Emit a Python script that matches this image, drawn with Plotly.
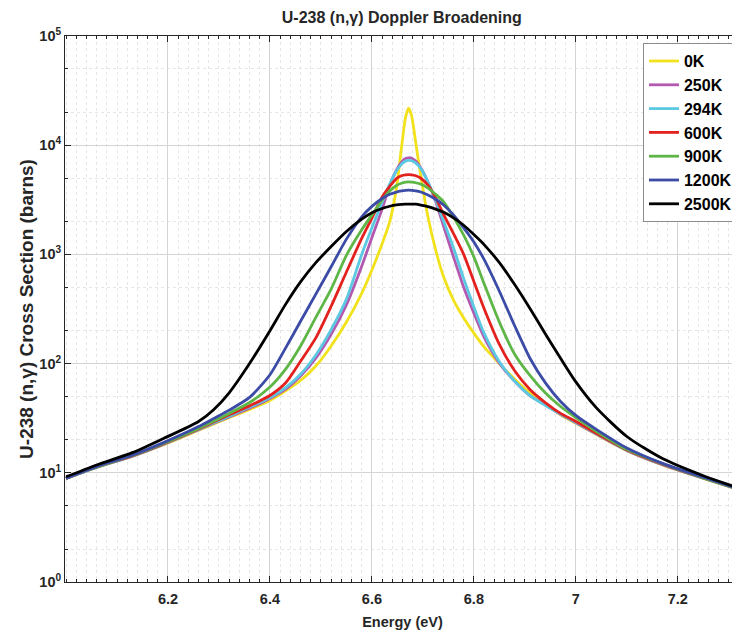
import plotly.graph_objects as go

energy = [6.00, 6.06, 6.13, 6.19, 6.26, 6.29, 6.32, 6.36, 6.40, 6.43, 6.46, 6.49, 6.52, 6.55,
          6.58, 6.60, 6.62, 6.635, 6.648, 6.658, 6.666, 6.672, 6.678, 6.686, 6.696, 6.71,
          6.725, 6.74, 6.76, 6.78, 6.80, 6.82, 6.85, 6.88, 6.91, 6.94, 6.97, 7.00, 7.04,
          7.10, 7.17, 7.25, 7.32]

xs_0K = [8.9, 11.2, 14.2, 18.0, 24.5, 28, 32, 38, 46, 56, 70, 95, 145, 240,
         440, 720, 1250, 2000, 4000, 9500, 18000, 21800, 18500, 10500, 5200, 2200,
         1100, 634, 381, 262, 190, 142, 100, 72, 54, 43, 34, 28.5, 22.5,
         16, 11.8, 8.9, 7.0]
xs_250K = [8.9, 11.2, 14.2, 18.1, 24.8, 28.4, 32.5, 39, 48, 58, 77, 112, 185, 345,
           780, 1430, 2600, 4300, 5900, 7000, 7550, 7670, 7600, 7150, 6200, 4600,
           3050, 1850, 950, 500, 290, 175, 101, 69, 51, 42, 34.3, 28.7, 22.6,
           16.05, 11.85, 8.92, 7.02]
xs_294K = [8.9, 11.2, 14.2, 18.2, 25, 28.7, 33, 40, 49, 60, 80, 120, 205, 390,
           1000, 1750, 3000, 4400, 5800, 6700, 7150, 7260, 7200, 6850, 6100, 4600,
           3150, 2050, 1150, 600, 330, 190, 104, 69, 51, 41.5, 34.5, 29, 22.8,
           16.1, 11.9, 8.95, 7.05]
xs_600K = [8.9, 11.3, 14.3, 18.3, 25.2, 29.3, 34, 41, 51, 66, 105, 172, 335, 690,
           1400, 2150, 3350, 4200, 4950, 5250, 5350, 5370, 5350, 5250, 4980, 4300,
           3300, 2350, 1550, 1000, 566, 320, 150, 86, 58, 44, 35, 29.5, 23,
           16.2, 12, 9.0, 7.05]
xs_900K = [8.9, 11.3, 14.4, 18.5, 25.5, 29.8, 35, 44, 61, 88, 145, 265, 480, 980,
           1680, 2300, 3150, 3800, 4280, 4480, 4580, 4610, 4590, 4530, 4400, 4050,
           3550, 3050, 2200, 1500, 950, 540, 240, 122, 78, 54, 40.5, 32, 24,
           16.4, 12.1, 9.0, 7.05]
xs_1200K = [8.9, 11.4, 14.5, 18.8, 26.5, 31.5, 37.5, 49, 79, 137, 244, 433, 770, 1380,
            2210, 2750, 3250, 3550, 3720, 3810, 3855, 3870, 3860, 3820, 3730, 3500,
            3200, 2850, 2300, 1750, 1300, 900, 460, 222, 112, 67, 45, 33.5, 25,
            16.9, 12.2, 9.1, 7.1]
xs_2500K = [9.2, 11.8, 15.3, 20.5, 29.5, 38, 54, 100, 200, 345, 560, 840, 1180, 1620,
            2100, 2410, 2630, 2760, 2840, 2875, 2888, 2890, 2890, 2880, 2830, 2740,
            2600, 2440, 2160, 1850, 1520, 1230, 840, 530, 320, 188, 112, 68, 39.5,
            21.5, 13.5, 9.4, 7.25]

series_names = ["0K", "250K", "294K", "600K", "900K", "1200K", "2500K"]
series_values = [xs_0K, xs_250K, xs_294K, xs_600K, xs_900K, xs_1200K, xs_2500K]
series_colors = ["#F2E21B", "#B35AB0", "#5CC9E2", "#E3211F", "#5EB646", "#3B4BA6", "#000000"]

x_tick_vals = [6.2, 6.4, 6.6, 6.8, 7.0, 7.2]
x_tick_text = ["6.2", "6.4", "6.6", "6.8", "7", "7.2"]
y_tick_vals = [1, 10, 100, 1000, 10000, 100000]
y_tick_text = ["10<sup>0</sup>", "10<sup>1</sup>", "10<sup>2</sup>",
               "10<sup>3</sup>", "10<sup>4</sup>", "10<sup>5</sup>"]

FONT = "Liberation Sans, Arial, Helvetica, sans-serif"
INK = "#262626"

fig = go.Figure()
for name, vals, col in zip(series_names, series_values, series_colors):
    fig.add_trace(go.Scatter(
        x=energy, y=vals, name=name, mode="lines",
        line=dict(color=col, width=2.8, shape="spline", smoothing=0.7),
    ))

axis_common = dict(
    showline=True, linecolor=INK, linewidth=1, mirror="allticks",
    ticks="inside", ticklen=6, tickcolor=INK, automargin=False,
    showgrid=True, gridcolor="#d4d4d4", gridwidth=1, zeroline=False,
    tickfont=dict(family=FONT, size=14.5, color=INK, weight="bold"),
)

fig.update_xaxes(
    **axis_common,
    range=[5.998, 7.322],
    tickvals=x_tick_vals, ticktext=x_tick_text, ticklabelstandoff=4,
    minor=dict(dtick=0.02, tick0=6.0, ticks="inside", ticklen=3, tickcolor=INK,
               showgrid=True, gridcolor="#e6e6e6", griddash="dot"),
    title=dict(text="Energy (eV)", font=dict(family=FONT, size=14.5, color=INK, weight="bold"),
               standoff=10),
)
fig.update_yaxes(
    **axis_common,
    type="log", range=[0, 5],
    tickvals=y_tick_vals, ticktext=y_tick_text,
    minor=dict(ticks="inside", ticklen=3, tickcolor=INK,
               showgrid=True, gridcolor="#e6e6e6", griddash="dot"),
    title=dict(text="U-238 (n,\u03b3) Cross Section (barns)",
               font=dict(family=FONT, size=19, color=INK, weight="bold"), standoff=0),
)

# the page body adds an 8 px margin, so the figure is sized to end at the window edge
fig.update_layout(
    width=732, height=624,
    margin=dict(l=57, r=0, t=28, b=50),
    paper_bgcolor="white", plot_bgcolor="white",
    title=dict(text="U-238 (n,\u03b3) Doppler Broadening", x=0.538, xanchor="center",
               y=0.985, yanchor="middle",
               font=dict(family=FONT, size=16, color=INK, weight="bold")),
    legend=dict(x=0.997, y=0.987, xanchor="right", yanchor="top",
                bgcolor="white", bordercolor="#8c8c8c", borderwidth=1,
                font=dict(family=FONT, size=16, color="#000000", weight="bold"),
                itemwidth=30, tracegroupgap=0),
    showlegend=True,
)

fig.write_html("out.html")
